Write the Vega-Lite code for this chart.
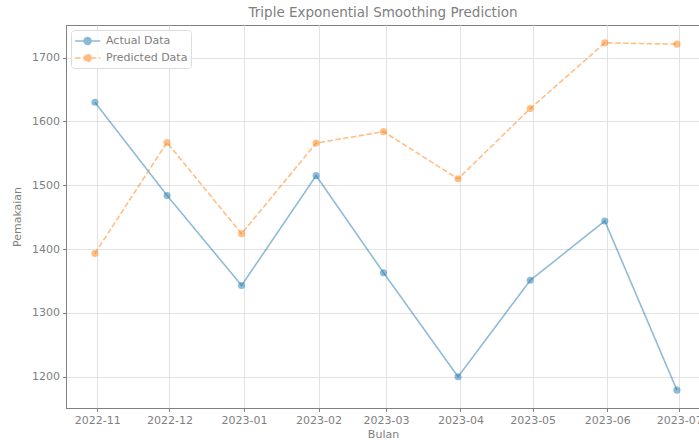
{
  "$schema": "https://vega.github.io/schema/vega-lite/v6.json",
  "autosize": {"type": "none"},
  "padding": {"left": 66, "top": 25, "right": 0, "bottom": 36},
  "width": 634,
  "height": 383,
  "background": "white",
  "config": {
    "font": "DejaVu Sans",
    "view": {"stroke": "#808080", "strokeWidth": 1},
    "axis": {
      "labelFont": "DejaVu Sans",
      "titleFont": "DejaVu Sans",
      "labelFontSize": 11,
      "titleFontSize": 11,
      "labelColor": "#808080",
      "titleColor": "#808080",
      "titleFontWeight": "normal",
      "domainColor": "#808080",
      "tickColor": "#808080",
      "tickSize": 3.5,
      "gridColor": "#e2e2e2",
      "gridWidth": 1,
      "labelPadding": 3
    },
    "title": {"font": "DejaVu Sans", "fontSize": 13.5, "fontWeight": "normal", "color": "#808080", "offset": 6}
  },
  "title": "Triple Exponential Smoothing Prediction",
  "data": {
    "values": [
      {"date": "2022-10-31", "series": "Actual Data", "value": 1630},
      {"date": "2022-11-30", "series": "Actual Data", "value": 1484},
      {"date": "2022-12-31", "series": "Actual Data", "value": 1343},
      {"date": "2023-01-31", "series": "Actual Data", "value": 1515},
      {"date": "2023-02-28", "series": "Actual Data", "value": 1363},
      {"date": "2023-03-31", "series": "Actual Data", "value": 1200},
      {"date": "2023-04-30", "series": "Actual Data", "value": 1351},
      {"date": "2023-05-31", "series": "Actual Data", "value": 1444},
      {"date": "2023-06-30", "series": "Actual Data", "value": 1179},
      {"date": "2022-10-31", "series": "Predicted Data", "value": 1393},
      {"date": "2022-11-30", "series": "Predicted Data", "value": 1567},
      {"date": "2022-12-31", "series": "Predicted Data", "value": 1424},
      {"date": "2023-01-31", "series": "Predicted Data", "value": 1566},
      {"date": "2023-02-28", "series": "Predicted Data", "value": 1584},
      {"date": "2023-03-31", "series": "Predicted Data", "value": 1510},
      {"date": "2023-04-30", "series": "Predicted Data", "value": 1620},
      {"date": "2023-05-31", "series": "Predicted Data", "value": 1723},
      {"date": "2023-06-30", "series": "Predicted Data", "value": 1721}
    ]
  },
  "mark": {
    "type": "line",
    "strokeWidth": 1.6,
    "opacity": 0.5,
    "point": {"filled": true, "size": 50, "opacity": 0.5}
  },
  "encoding": {
    "x": {
      "field": "date",
      "type": "temporal",
      "title": "Bulan",
      "scale": {"type": "utc", "domain": ["2022-10-19T00:00:00Z", "2023-07-09T14:00:00Z"], "nice": false},
      "axis": {"format": "%Y-%m", "tickCount": {"interval": "month", "step": 1}, "labelAngle": 0, "titlePadding": 3, "labelOverlap": false, "labelBound": false, "labelFlush": false}
    },
    "y": {
      "field": "value",
      "type": "quantitative",
      "title": "Pemakaian",
      "scale": {"domain": [1151, 1751], "nice": false, "zero": false},
      "axis": {"values": [1200, 1300, 1400, 1500, 1600, 1700], "format": "d", "titlePadding": 9}
    },
    "color": {
      "field": "series",
      "type": "nominal",
      "scale": {"domain": ["Actual Data", "Predicted Data"], "range": ["#1f77b4", "#ff7f0e"]},
      "legend": {
        "title": null,
        "orient": "top-left",
        "offset": 5,
        "padding": 3,
        "fillColor": "rgba(255,255,255,0.8)",
        "strokeColor": "#dddddd",
        "cornerRadius": 3,
        "labelFont": "DejaVu Sans",
        "labelFontSize": 11,
        "labelColor": "#808080",
        "labelOffset": 16,
        "rowPadding": 2,
        "symbolType": "M-1,0H2.6M1.3,0A0.5,0.5,0,1,1,0.3,0A0.5,0.5,0,1,1,1.3,0Z",
        "symbolSize": 196,
        "symbolStrokeWidth": 1.5,
        "symbolOpacity": 0.5
      }
    },
    "strokeDash": {
      "field": "series",
      "type": "nominal",
      "scale": {"domain": ["Actual Data", "Predicted Data"], "range": [[1, 0], [5.5, 2.4]]},
      "legend": {"title": null}
    }
  }
}
